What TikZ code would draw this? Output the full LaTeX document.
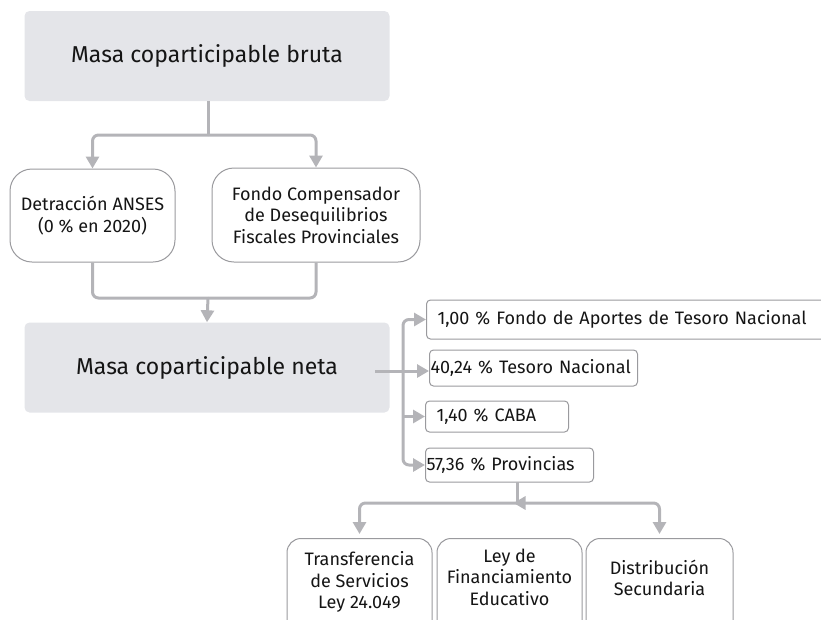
\documentclass[tikz,border=0pt]{standalone}
\usepackage{fontspec}
\setmainfont{Fira Sans}
\usetikzlibrary{arrows.meta,calc}
\definecolor{boxgray}{HTML}{E4E5E9}
\definecolor{linegray}{HTML}{B4B4B8}
\definecolor{bordergray}{HTML}{9A9A9E}
\definecolor{txt}{HTML}{151515}
\tikzset{
  bigbox/.style={fill=boxgray, rounded corners=5pt, minimum width=365pt, minimum height=90pt, font=\fontsize{23}{27}\selectfont, text=txt},
  roundbox/.style={draw=bordergray, line width=1pt, fill=white, rounded corners=22pt, align=center, font=\fontsize{18}{21.5}\selectfont, text=txt},
  lowbox/.style={draw=bordergray, line width=1pt, fill=white, rounded corners=14pt, minimum height=100pt, anchor=north},
  lbl/.style={align=center, font=\fontsize{18}{21.5}\selectfont, text=txt, inner sep=0pt},
  tagbox/.style={draw=bordergray, line width=1pt, fill=white, rounded corners=4pt, align=left, font=\fontsize{18}{21}\selectfont, text=txt, inner sep=0pt},
  conn/.style={draw=linegray, line width=3pt, rounded corners=6pt},
  arr/.style={-{Triangle[width=13pt,length=12pt]}},
}
\begin{document}
\begin{tikzpicture}[x=1pt,y=-1pt]
\useasboundingbox (0,0) rectangle (821,619);
\clip (0,0) rectangle (821,619);
% main boxes
\node[bigbox] (bruta) at (207,56) {Masa coparticipable bruta};
\node[roundbox, minimum width=165pt, minimum height=93pt] (anses) at (92.5,215.5) {Detracción ANSES\\(0 \% en 2020)};
\node[roundbox, minimum width=208pt, minimum height=94pt] (fondo) at (316,215) {Fondo Compensador\\de Desequilibrios\\Fiscales Provinciales};
\node[bigbox] (neta) at (207,367.5) {Masa coparticipable neta};
% right tags
\node[tagbox, anchor=west, minimum height=39pt, text width=398pt, inner xsep=11pt] (fat) at (426,319.5) {1,00 \% Fondo de Aportes de Tesoro Nacional};
\node[tagbox, anchor=west, minimum height=36pt, text width=206pt, inner xsep=1pt] (tn) at (429,368) {40,24 \% Tesoro Nacional};
\node[tagbox, anchor=west, minimum height=31pt, text width=121pt, inner xsep=11pt] (caba) at (425,416.5) {1,40 \% CABA};
\node[tagbox, anchor=west, minimum height=34pt, text width=166pt, inner xsep=1pt] (prov) at (425,465) {57,36 \% Provincias};
% bottom boxes
\node[lowbox, minimum width=145pt] (ts) at (359.5,538) {};
\node[lowbox, minimum width=145pt] (lfe) at (509.5,538) {};
\node[lowbox, minimum width=147pt] (ds) at (659.5,538) {};
\node[lbl] (tsl) at ($(ts.north)+(0,44)$) {Transferencia\\de Servicios\\Ley 24.049};
\node[lbl] (lfel) at ($(lfe.north)+(0,39)$) {Ley de\\Financiamiento\\Educativo};
\node[lbl] (dsl) at ($(ds.north)+(0,40)$) {Distribución\\Secundaria};
% coordinates
\coordinate (j1) at (208,135);
\coordinate (j2) at (208,298);
\coordinate (ns) at (375,371);
\coordinate (t) at (403,371);
\coordinate (p0) at (517,482);
\coordinate (j3) at (517,503);
% connectors top
\draw[conn] (208,101) -- (j1);
\draw[conn,arr] (j1) -| (anses.north);
\draw[conn,arr] (j1) -| (fondo.north);
\draw[conn] (anses.south) |- (j2);
\draw[conn] (fondo.south) |- (j2);
\draw[conn,arr] (j2) -- (neta.north);
% connectors right
\draw[conn] (ns) -- (t);
\draw[conn,arr] (t) |- (fat.west);
\draw[conn,arr] (t) -- (t -| tn.west);
\draw[conn,arr] (t |- caba.west) -- (caba.west);
\draw[conn,arr] (t) |- (prov.west);
% connectors bottom
\draw[conn] (p0) -- (j3);
\draw[conn,arr,shorten >=4pt] (j3) -| (ts.north);
\draw[conn,arr,shorten >=4pt] (j3) -| (ds.north);
\draw[conn,arr,shorten >=4pt] (j3) -- (j3 -| lfe.north);
\end{tikzpicture}
\end{document}
